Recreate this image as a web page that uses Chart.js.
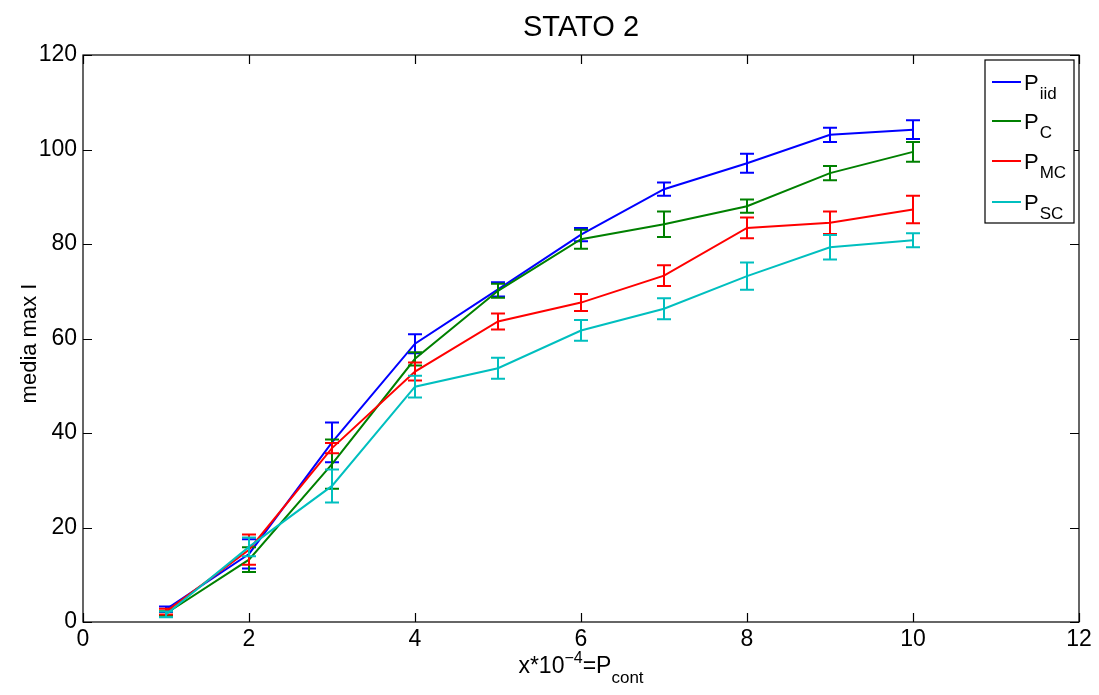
<!DOCTYPE html>
<html>
<head>
<meta charset="utf-8">
<script src="https://cdn.jsdelivr.net/npm/chart.js@4/dist/chart.umd.min.js"></script>
<style>
html,body{margin:0;padding:0;background:#fff;}
#wrap{width:1099px;height:695px;}
</style>
</head>
<body>
<div id="wrap"><canvas id="c" width="1099" height="695"></canvas></div>
<script>
const xValues = [1, 2, 3, 4, 5, 6, 7, 8, 9, 10];
const iidValues = [2.7, 14.4, 38.0, 58.9, 70.4, 82.0, 91.6, 97.1, 103.1, 104.2];
const iidErr    = [0.6, 3.1, 4.2, 2.0, 1.5, 1.4, 1.4, 2.0, 1.5, 2.0];
const cValues   = [1.8, 13.2, 33.4, 55.7, 70.1, 81.0, 84.2, 88.0, 95.0, 99.5];
const cErr      = [0.5, 2.6, 5.2, 1.4, 1.5, 2.0, 2.7, 1.4, 1.5, 2.1];
const mcValues  = [2.2, 15.3, 36.8, 53.0, 63.6, 67.6, 73.3, 83.4, 84.5, 87.3];
const mcErr     = [0.6, 3.2, 1.1, 1.9, 1.7, 1.8, 2.2, 2.2, 2.4, 2.9];
const scValues  = [1.6, 15.9, 28.8, 49.8, 53.7, 61.7, 66.3, 73.2, 79.3, 80.8];
const scErr     = [0.6, 2.0, 3.5, 2.3, 2.2, 2.2, 2.2, 2.9, 2.6, 1.5];
const xTicks = [0, 2, 4, 6, 8, 10, 12];
const yTicks = [0, 20, 40, 60, 80, 100, 120];
const seriesNames = [["P","iid"],["P","C"],["P","MC"],["P","SC"]];
const seriesColors = ["#0000ff", "#008000", "#ff0000", "#00bfbf"];

const FONT = '"Liberation Sans", Arial, Helvetica, sans-serif';
const allVals = [iidValues, cValues, mcValues, scValues];
const allErr = [iidErr, cErr, mcErr, scErr];

const datasets = allVals.map((vals, i) => ({
  label: seriesNames[i].join(''),
  data: xValues.map((x, j) => ({x: x, y: vals[j]})),
  borderColor: seriesColors[i],
  backgroundColor: seriesColors[i],
  borderWidth: 2,
  pointRadius: 0,
  tension: 0,
  fill: false,
  order: 4 - i,
  errors: allErr[i]
}));

const errorBars = {
  id: 'errorBars',
  afterDatasetDraw(chart, args) {
    const ds = chart.data.datasets[args.index];
    const xs = chart.scales.x, ys = chart.scales.y;
    const ctx = chart.ctx;
    ctx.save();
    ctx.strokeStyle = ds.borderColor;
    ctx.lineWidth = 2;
    ds.data.forEach((p, j) => {
      const e = ds.errors[j];
      const px = xs.getPixelForValue(p.x);
      const top = ys.getPixelForValue(p.y + e);
      const bot = ys.getPixelForValue(p.y - e);
      ctx.beginPath();
      ctx.moveTo(px, top); ctx.lineTo(px, bot);
      ctx.moveTo(px - 7, top); ctx.lineTo(px + 7, top);
      ctx.moveTo(px - 7, bot); ctx.lineTo(px + 7, bot);
      ctx.stroke();
    });
    ctx.restore();
  }
};

const frame = {
  id: 'frame',
  afterDraw(chart) {
    const ctx = chart.ctx;
    const a = chart.chartArea;
    const xs = chart.scales.x, ys = chart.scales.y;
    ctx.save();
    ctx.strokeStyle = '#000';
    ctx.lineWidth = 1.2;
    ctx.strokeRect(a.left, a.top, a.right - a.left, a.bottom - a.top);
    ctx.beginPath();
    const tl = 9;
    xTicks.forEach(v => {
      const px = Math.round(xs.getPixelForValue(v)) + 0.5;
      ctx.moveTo(px, a.bottom); ctx.lineTo(px, a.bottom - tl);
      ctx.moveTo(px, a.top); ctx.lineTo(px, a.top + tl);
    });
    yTicks.forEach(v => {
      const py = Math.round(ys.getPixelForValue(v)) + 0.5;
      ctx.moveTo(a.left, py); ctx.lineTo(a.left + tl, py);
      ctx.moveTo(a.right, py); ctx.lineTo(a.right - tl, py);
    });
    ctx.stroke();

    // Title
    ctx.fillStyle = '#000';
    ctx.font = '29px ' + FONT;
    ctx.textAlign = 'center';
    ctx.textBaseline = 'alphabetic';
    ctx.fillText('STATO 2', (a.left + a.right) / 2, 36);

    // Y label
    ctx.save();
    ctx.translate(30, (a.top + a.bottom) / 2 + 5);
    ctx.rotate(-Math.PI / 2);
    ctx.font = '22px ' + FONT;
    ctx.textAlign = 'center';
    ctx.textBaseline = 'middle';
    ctx.fillText('media max I', 0, 0);
    ctx.restore();

    // X label with super/subscript
    const parts = [
      {t: 'x*10', f: 23, dy: 0},
      {t: '\u22124', f: 16, dy: -10},
      {t: '=P', f: 23, dy: 0},
      {t: 'cont', f: 17, dy: 10}
    ];
    let total = 0;
    parts.forEach(p => { ctx.font = p.f + 'px ' + FONT; p.w = ctx.measureText(p.t).width; total += p.w; });
    let x = (a.left + a.right) / 2 - total / 2;
    const base = 673;
    ctx.textAlign = 'left';
    parts.forEach(p => { ctx.font = p.f + 'px ' + FONT; ctx.fillText(p.t, x, base + p.dy); x += p.w; });

    // Legend
    const lx = 985, ly = 60, lw = 89, lh = 163;
    ctx.fillStyle = '#fff';
    ctx.fillRect(lx, ly, lw, lh);
    ctx.strokeStyle = '#000';
    ctx.lineWidth = 1.2;
    ctx.strokeRect(lx, ly, lw, lh);
    const rows = [82, 121, 161, 202];
    seriesNames.forEach((nm, i) => {
      const ry = rows[i];
      ctx.strokeStyle = seriesColors[i];
      ctx.lineWidth = 2;
      ctx.beginPath();
      ctx.moveTo(992, ry); ctx.lineTo(1021, ry);
      ctx.stroke();
      ctx.fillStyle = '#000';
      ctx.font = '22px ' + FONT;
      ctx.textBaseline = 'alphabetic';
      ctx.fillText(nm[0], 1024, ry + 8);
      const pw = ctx.measureText(nm[0]).width;
      ctx.font = '17px ' + FONT;
      ctx.fillText(nm[1], 1024 + pw + 1, ry + 17);
    });
    ctx.restore();
  }
};

new Chart(document.getElementById('c'), {
  type: 'line',
  data: { datasets: datasets },
  options: {
    responsive: false,
    animation: false,
    devicePixelRatio: 1,
    layout: { padding: { top: 55, right: 20, left: 0, bottom: 0 } },
    plugins: { legend: { display: false }, title: { display: false }, tooltip: { enabled: false } },
    scales: {
      x: {
        type: 'linear', min: 0, max: 12,
        afterFit: s => { s.height = 73; },
        afterBuildTicks: s => { s.ticks = xTicks.map(v => ({value: v})); },
        grid: { display: false, drawTicks: false },
        border: { display: false },
        ticks: { color: '#000', font: { family: FONT, size: 23 }, padding: 4, maxRotation: 0 }
      },
      y: {
        type: 'linear', min: 0, max: 120,
        afterFit: s => { s.width = 83; },
        afterBuildTicks: s => { s.ticks = yTicks.map(v => ({value: v})); },
        grid: { display: false, drawTicks: false },
        border: { display: false },
        ticks: { color: '#000', font: { family: FONT, size: 23 }, padding: 6 }
      }
    }
  },
  plugins: [errorBars, frame]
});
</script>
</body>
</html>
